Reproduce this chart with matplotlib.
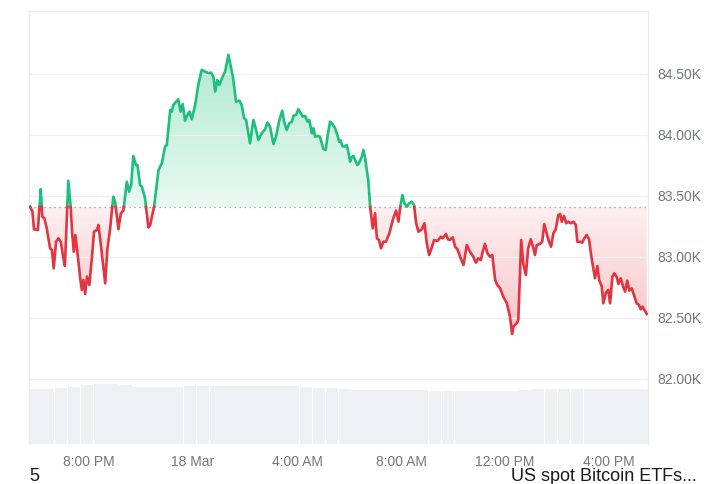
import numpy as np
import matplotlib
matplotlib.use("Agg")
from matplotlib import pyplot as plt
from matplotlib.path import Path

plt.rcParams["font.family"] = ["Liberation Sans", "DejaVu Sans"]

# price, hours counted from 17 Mar 00:00, price in thousands of USD
hours = [
    17.73, 17.82, 17.88, 18.03, 18.14, 18.20, 18.28, 18.37, 18.50, 18.57,
    18.64, 18.73, 18.82, 18.91, 18.99, 19.07, 19.20, 19.28, 19.35, 19.41,
    19.47, 19.57, 19.65, 19.72, 19.78, 19.85, 19.92, 20.01, 20.10, 20.19,
    20.30, 20.36, 20.46, 20.62, 20.70, 20.81, 20.93, 21.00, 21.13, 21.22,
    21.32, 21.45, 21.54, 21.62, 21.70, 21.80, 21.86, 21.96, 22.03, 22.15,
    22.28, 22.35, 22.50, 22.67, 22.80, 22.92, 22.99, 23.12, 23.18, 23.24,
    23.35, 23.43, 23.52, 23.60, 23.69, 23.78, 23.86, 23.95, 24.08, 24.20,
    24.33, 24.46, 24.59, 24.69, 24.78, 24.85, 24.93, 25.01, 25.14, 25.23,
    25.36, 25.45, 25.53, 25.59, 25.65, 25.78, 25.87, 25.96, 26.04, 26.19,
    26.32, 26.41, 26.51, 26.64, 26.77, 26.86, 26.96, 27.09, 27.19, 27.32,
    27.43, 27.50, 27.60, 27.70, 27.80, 27.86, 27.96, 28.05, 28.14, 28.22,
    28.31, 28.40, 28.47, 28.57, 28.63, 28.69, 28.78, 28.88, 29.01, 29.10,
    29.18, 29.27, 29.37, 29.46, 29.55, 29.62, 29.68, 29.74, 29.82, 29.91,
    29.97, 30.04, 30.10, 30.17, 30.23, 30.32, 30.38, 30.49, 30.55, 30.62,
    30.68, 30.74, 30.81, 30.91, 31.00, 31.07, 31.15, 31.23, 31.32, 31.42,
    31.55, 31.70, 31.81, 31.90, 31.96, 32.05, 32.13, 32.22, 32.31, 32.41,
    32.50, 32.58, 32.67, 32.80, 32.90, 32.99, 33.08, 33.15, 33.27, 33.40,
    33.53, 33.60, 33.73, 33.80, 33.88, 33.99, 34.08, 34.17, 34.27, 34.40,
    34.53, 34.65, 34.78, 34.88, 34.97, 35.07, 35.14, 35.23, 35.32, 35.42,
    35.51, 35.62, 35.70, 35.81, 35.93, 36.07, 36.19, 36.27, 36.32, 36.45,
    36.51, 36.62, 36.70, 36.80, 36.89, 36.99, 37.09, 37.15, 37.22, 37.35,
    37.43, 37.51, 37.60, 37.69, 37.77, 37.86, 37.95, 38.05, 38.12, 38.18,
    38.27, 38.35, 38.43, 38.54, 38.63, 38.72, 38.78, 38.88, 38.97, 39.05,
    39.14, 39.23, 39.33, 39.46, 39.55, 39.62, 39.72, 39.78, 39.87, 39.97,
    40.04, 40.13, 40.20, 40.30, 40.36, 40.45, 40.55, 40.62, 40.70, 40.78,
    40.87, 40.96, 41.06, 41.15, 41.22, 41.29, 41.38, 41.45,
]
price = [
    83.412, 83.371, 83.227, 83.221, 83.555, 83.330, 83.317, 83.235, 83.071, 83.057,
    82.907, 83.125, 83.153, 83.125, 83.016, 82.926, 83.625, 83.440, 83.194, 83.043,
    83.180, 83.002, 82.839, 82.730, 82.811, 82.697, 82.839, 82.770, 82.975, 83.207,
    83.221, 83.262, 83.084, 82.784, 83.057, 83.235, 83.494, 83.453, 83.227, 83.358,
    83.380, 83.617, 83.535, 83.590, 83.828, 83.754, 83.754, 83.590, 83.576, 83.484,
    83.242, 83.262, 83.412, 83.713, 83.768, 83.904, 83.918, 84.205, 84.191, 84.246,
    84.273, 84.293, 84.191, 84.254, 84.117, 84.164, 84.191, 84.129, 84.246, 84.410,
    84.533, 84.519, 84.506, 84.511, 84.478, 84.355, 84.451, 84.410, 84.478, 84.519,
    84.656, 84.560, 84.478, 84.383, 84.273, 84.281, 84.246, 84.137, 84.123, 83.932,
    84.123, 84.055, 83.959, 84.014, 84.047, 84.101, 84.068, 83.926, 83.986, 84.123,
    84.199, 84.109, 84.041, 84.096, 84.109, 84.156, 84.164, 84.211, 84.178, 84.150,
    84.156, 84.109, 84.123, 84.014, 84.055, 83.986, 83.992, 83.986, 83.885, 83.877,
    84.000, 84.109, 84.088, 84.055, 84.000, 83.945, 83.953, 83.910, 83.904, 83.918,
    83.863, 83.781, 83.817, 83.828, 83.795, 83.754, 83.768, 83.822, 83.877, 83.809,
    83.713, 83.631, 83.412, 83.235, 83.358, 83.153, 83.139, 83.071, 83.125, 83.125,
    83.194, 83.317, 83.380, 83.289, 83.399, 83.508, 83.440, 83.412, 83.440, 83.453,
    83.426, 83.276, 83.207, 83.227, 83.276, 83.112, 83.016, 83.057, 83.139, 83.131,
    83.166, 83.153, 83.189, 83.145, 83.139, 83.161, 83.084, 83.063, 83.002, 82.934,
    83.098, 83.043, 83.002, 82.953, 82.989, 82.975, 83.043, 83.107, 83.030, 83.002,
    83.016, 82.811, 82.770, 82.743, 82.675, 82.620, 82.511, 82.369, 82.429, 82.457,
    82.484, 83.139, 82.948, 82.852, 83.071, 83.145, 83.071, 83.016, 83.098, 83.107,
    83.125, 83.270, 83.194, 83.125, 83.084, 83.194, 83.227, 83.344, 83.352, 83.289,
    83.336, 83.276, 83.289, 83.276, 83.289, 83.262, 83.125, 83.125, 83.117, 83.153,
    83.180, 83.145, 82.989, 82.825, 82.926, 82.811, 82.757, 82.620, 82.702, 82.730,
    82.620, 82.839, 82.866, 82.834, 82.779, 82.825, 82.752, 82.716, 82.806, 82.724,
    82.743, 82.689, 82.620, 82.607, 82.571, 82.593, 82.560, 82.533,
]
open_price = 83.41

# half-hourly volume, arbitrary units
volume = [
    55, 55, 56, 57, 59, 60, 60, 59, 57, 57, 57, 57, 58, 58, 58, 58,
    58, 58, 58, 58, 58, 57, 56, 56, 55, 54, 54, 54, 54, 54, 54, 53,
    53, 53, 53, 53, 53, 53, 54, 55, 55, 55, 55, 55, 55, 55, 55, 55,
]

tick_hours = [20, 24, 28, 32, 36, 40]
tick_labels = ["8:00 PM", "18 Mar", "4:00 AM", "8:00 AM", "12:00 PM", "4:00 PM"]
price_ticks = [82.0, 82.5, 83.0, 83.5, 84.0, 84.5]

GREEN = "#1dbf7c"
RED = "#e3343f"
GREY_TEXT = "#6f7780"
X_MIN, X_MAX = 17.69, 41.5
Y_MIN, Y_MAX = 81.467, 85.016


def split_at_open(h, p, base):
    """Insert a point on the open line wherever the price crosses it"""
    hh, pp = [h[0]], [p[0]]
    for i in range(1, len(h)):
        a, b = p[i - 1] - base, p[i] - base
        if a * b < 0:
            t = a / (a - b)
            hh.append(h[i - 1] + t * (h[i] - h[i - 1]))
            pp.append(base)
        hh.append(h[i])
        pp.append(p[i])
    return np.array(hh), np.array(pp)


def gradient_fill(ax, h, lower, upper, rgb, a_top, a_bottom, y0, y1):
    poly = ax.fill_between(h, lower, upper, facecolor="none", edgecolor="none")
    clip = Path.make_compound_path(*poly.get_paths())
    grad = np.linspace(a_top, a_bottom, 256).reshape(-1, 1)
    img = np.zeros((256, 1, 4))
    img[..., :3] = rgb
    img[..., 3] = grad
    im = ax.imshow(img, extent=[X_MIN, X_MAX, y0, y1], origin="upper",
                   aspect="auto", zorder=1, interpolation="bilinear")
    im.set_clip_path(clip, transform=ax.transData)


fig = plt.figure(figsize=(7.26, 4.84), dpi=100)
ax = fig.add_axes([0.040, 0.0826, 0.8526, 0.8947])
vax = ax.twinx()
ax.set_zorder(vax.get_zorder() + 1)
ax.patch.set_visible(False)

# volume bars at the bottom
edges = np.linspace(X_MIN, X_MAX, len(volume) + 1)
vax.bar(edges[:-1], volume, width=(edges[1] - edges[0]) * 0.97, align="edge",
        color="#eef0f3", edgecolor="none")
vax.set_ylim(0, max(volume) * 7.2)
vax.set_yticks([])
for s in vax.spines.values():
    s.set_visible(False)

h, p = split_at_open(hours, price, open_price)

gradient_fill(ax, h, open_price, np.maximum(p, open_price),
              (0.11, 0.76, 0.49), 0.36, 0.10, open_price, 84.7)
gradient_fill(ax, h, np.minimum(p, open_price), open_price,
              (0.90, 0.22, 0.27), 0.08, 0.30, 82.35, open_price)

eps = 1e-9
ax.plot(h, np.where(p >= open_price - eps, p, np.nan), color=GREEN, lw=1.9,
        zorder=3, solid_joinstyle="round")
ax.plot(h, np.where(p <= open_price + eps, p, np.nan), color=RED, lw=1.9,
        zorder=3, solid_joinstyle="round")
ax.axhline(open_price, color="#9a9a9a", lw=0.9, ls=(0, (1, 3)), zorder=2)

ax.set_xlim(X_MIN, X_MAX)
ax.set_ylim(Y_MIN, Y_MAX)
ax.yaxis.tick_right()
ax.set_yticks(price_ticks)
ax.set_yticklabels([f"{v:.2f}K" for v in price_ticks])
ax.set_xticks(tick_hours)
ax.set_xticklabels(tick_labels)
ax.tick_params(axis="both", length=0, labelsize=10, colors=GREY_TEXT)
ax.tick_params(axis="y", pad=7)
ax.tick_params(axis="x", pad=8)
ax.grid(axis="y", color="#f0f0f0", lw=1)
for name, s in ax.spines.items():
    s.set_color("#ebebeb")
    s.set_linewidth(1)
ax.spines["bottom"].set_visible(False)

fig.text(0.041, 0.0145, "5", fontsize=13, color="#1a1a1a", ha="left", va="center")
fig.text(0.960, 0.0145, "US spot Bitcoin ETFs...", fontsize=13, color="#1a1a1a",
         ha="right", va="center")

fig.savefig("out.png", dpi=100)
